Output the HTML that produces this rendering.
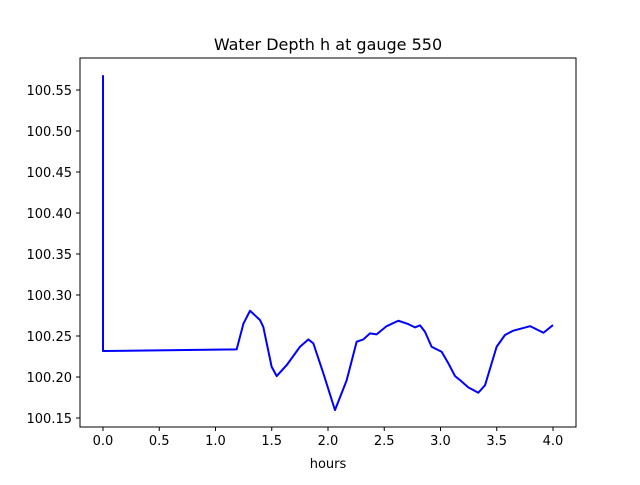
<!DOCTYPE html>
<html><head><meta charset="utf-8"><style>
body{margin:0;background:#fff;font-family:"Liberation Sans","DejaVu Sans",sans-serif;}
svg text{font-family:"DejaVu Sans","Liberation Sans",sans-serif;}
</style></head><body>
<svg id="chart" width="640" height="480" xmlns="http://www.w3.org/2000/svg">
<rect width="640" height="480" fill="#fff"/>
<text x="328" y="50" font-size="16" text-anchor="middle">Water Depth h at gauge 550</text>
<text x="328" y="468" font-size="13" text-anchor="middle">hours</text>
<g id="ticks"></g>
<polyline id="series" fill="none" stroke="#0000ff" stroke-width="2" stroke-linejoin="round"/>
<rect x="80" y="58" width="496" height="369" fill="none" stroke="#000" stroke-width="1"/>
</svg>
<script>
const hours=[0,0,1.188,1.248,1.307,1.396,1.425,1.499,1.544,1.633,1.751,1.825,1.870,1.959,2.062,2.166,2.255,2.314,2.373,2.432,2.521,2.625,2.714,2.773,2.818,2.862,2.921,3.010,3.070,3.129,3.173,3.247,3.336,3.396,3.499,3.573,3.647,3.796,3.915,4.0];
const depth=[100.568,100.2317,100.2337,100.265,100.2808,100.2694,100.261,100.2125,100.2011,100.2145,100.2369,100.2458,100.241,100.2044,100.1596,100.196,100.2431,100.2458,100.2532,100.252,100.262,100.2686,100.2645,100.2605,100.263,100.2552,100.2369,100.2308,100.2166,100.2011,100.1963,100.1873,100.1808,100.19,100.2369,100.2512,100.2565,100.262,100.254,100.2633];
const xTicks=[0,0.5,1,1.5,2,2.5,3,3.5,4];
const xTickLabels=["0.0","0.5","1.0","1.5","2.0","2.5","3.0","3.5","4.0"];
const yTicks=[100.15,100.2,100.25,100.3,100.35,100.4,100.45,100.5,100.55];
const yTickLabels=["100.15","100.20","100.25","100.30","100.35","100.40","100.45","100.50","100.55"];
const xs=h=>103+h*112.5;
const ys=v=>418-(v-100.15)*820;
const NS="http://www.w3.org/2000/svg";
const g=document.getElementById('ticks');
function mk(tag,attrs){const e=document.createElementNS(NS,tag);for(const k in attrs)e.setAttribute(k,attrs[k]);return e;}
xTicks.forEach((t,i)=>{
  const l=mk('line',{x1:xs(t),x2:xs(t),y1:427,y2:431,stroke:'#000'});
  
  
  g.appendChild(l);
  const tx=mk('text',{x:xs(t),y:445,'font-size':'13','text-anchor':'middle'});
  tx.textContent=xTickLabels[i];
  
  
  g.appendChild(tx);
});
yTicks.forEach((t,i)=>{
  const l=mk('line',{x1:76,x2:80,y1:ys(t),y2:ys(t),stroke:'#000'});
  
  
  g.appendChild(l);
  const tx=mk('text',{x:72,y:ys(t)+5,'font-size':'13','text-anchor':'end'});
  tx.textContent=yTickLabels[i];
  
  
  g.appendChild(tx);
});
document.getElementById('series').setAttribute('points',hours.map((h,i)=>xs(h)+','+ys(depth[i])).join(' '));
</script>
</body></html>
